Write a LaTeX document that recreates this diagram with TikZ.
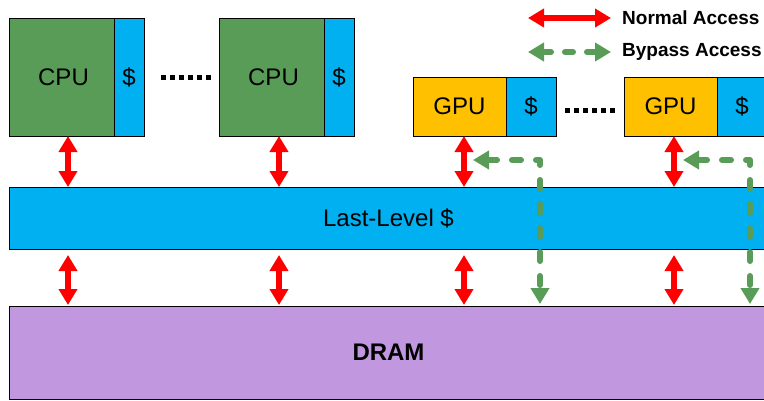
\documentclass[tikz,border=0pt]{standalone}
\usepackage{fontspec}
\setmainfont{Liberation Sans}
\usetikzlibrary{arrows.meta}

\definecolor{cpugreen}{RGB}{88,156,88}
\definecolor{cacheblue}{RGB}{0,176,240}
\definecolor{gpuyellow}{RGB}{255,192,0}
\definecolor{dramviolet}{RGB}{193,152,223}
\definecolor{bypassgreen}{RGB}{88,156,88}

\tikzset{
  unit/.style={draw=black, line width=1pt, inner sep=0pt, outer sep=0pt,
    anchor=north west, font=\fontsize{24}{28}\selectfont},
  cpubox/.style={unit, fill=cpugreen, minimum width=105pt, minimum height=118pt},
  cpucache/.style={unit, fill=cacheblue, minimum width=30pt, minimum height=118pt},
  gpubox/.style={unit, fill=gpuyellow, minimum width=93pt, minimum height=59pt},
  gpucache/.style={unit, fill=cacheblue, minimum width=50pt, minimum height=59pt},
  normalaccess/.style={draw=red, line width=6pt,
    {Triangle[width=18pt,length=16pt]}-{Triangle[width=18pt,length=16pt]}},
  bypassaccess/.style={draw=bypassgreen, line width=6pt, line cap=round, line join=round,
    dash pattern=on 9pt off 15pt,
    {Triangle[width=18pt,length=16pt]}-{Triangle[width=18pt,length=16pt]}},
  ellipsisdots/.style={line width=5pt, dash pattern=on 5pt off 4pt},
  legendtext/.style={anchor=west, inner sep=0pt, font=\fontsize{19}{22}\selectfont\bfseries}
}

\begin{document}
\begin{tikzpicture}[x=1pt, y=-1pt]
  \clip (0,0) rectangle (764,400);
  \fill[white] (0,0) rectangle (764,400);

  % CPU cores with private caches
  \node[cpubox] (cpu1) at (9,18) {\hspace*{4pt}CPU};
  \node[cpucache] (cpu1c) at (cpu1.north east) {\$};
  \node[cpubox] (cpu2) at (219,18) {\hspace*{4pt}CPU};
  \node[cpucache] (cpu2c) at (cpu2.north east) {\$};
  \draw[ellipsisdots] (161,77) -- (212,77);

  % GPU cores with private caches
  \node[gpubox] (gpu1) at (413,77) {GPU};
  \node[gpucache] (gpu1c) at (gpu1.north east) {\$};
  \node[gpubox] (gpu2) at (624,77) {GPU};
  \node[gpucache] (gpu2c) at (gpu2.north east) {\$};
  \draw[ellipsisdots] (565,110) -- (616,110);

  % Shared last-level cache and memory
  \node[unit, fill=cacheblue, minimum width=759pt, minimum height=62pt] (llc) at (9,187) {Last-Level \$};
  \node[unit, fill=dramviolet, minimum width=759pt, minimum height=93pt,
        font=\fontsize{24}{28}\selectfont\bfseries] (dram) at (9,306) {DRAM};

  % Columns of the access arrows
  \coordinate (c1) at (68,0);
  \coordinate (c2) at (279,0);
  \coordinate (c3) at (464,0);
  \coordinate (c4) at (674,0);
  \coordinate (b3) at (540,160);
  \coordinate (b4) at (750,160);

  % Normal accesses: core <-> LLC <-> DRAM
  \foreach \c/\core in {c1/cpu1, c2/cpu2, c3/gpu1, c4/gpu2} {
    \draw[normalaccess] (\core.south -| \c) -- (llc.north -| \c);
    \draw[normalaccess] ([yshift=-6pt]llc.south -| \c) -- ([yshift=1pt]dram.north -| \c);
  }

  % Bypass accesses: GPU <-> DRAM around the LLC
  \draw[bypassaccess] ([xshift=9pt]b3 -| c3) -- (b3) -- ([yshift=2pt]dram.north -| b3);
  \draw[bypassaccess] ([xshift=9pt]b4 -| c4) -- (b4) -- ([yshift=2pt]dram.north -| b4);

  % Legend
  \coordinate (l1) at (528,18);
  \coordinate (l2) at (611,18);
  \coordinate (l3) at (528,52);
  \coordinate (l4) at (611,52);
  \draw[normalaccess] (l1) -- (l2);
  \draw[bypassaccess, dash pattern=on 8pt off 14pt] (l3) -- (l4);
  \node[legendtext] (lnormal) at (622,18) {Normal Access};
  \node[legendtext] (lbypass) at (622,52) {Bypass Access};
\end{tikzpicture}
\end{document}
